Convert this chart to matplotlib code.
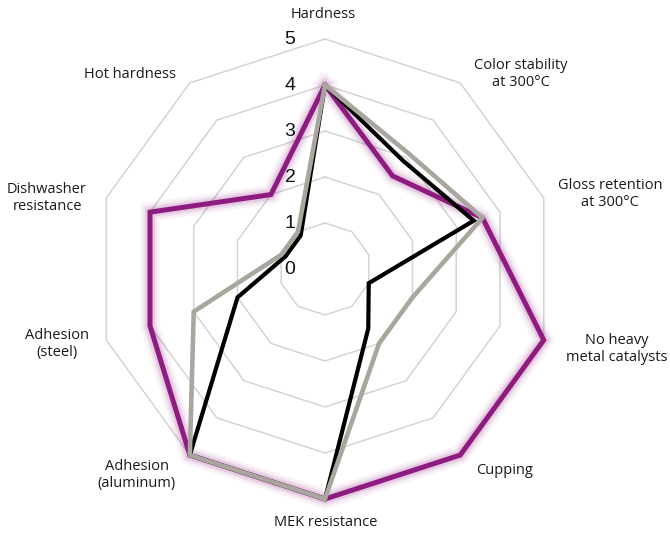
import numpy as np
import matplotlib
matplotlib.use("Agg")
import matplotlib.pyplot as plt
import matplotlib.patheffects as pe

categories = ["Hardness", "Color stability\nat 300°C", "Gloss retention\nat 300°C",
              "No heavy\nmetal catalysts", "Cupping", "MEK resistance",
              "Adhesion\n(aluminum)", "Adhesion\n(steel)", "Dishwasher\nresistance",
              "Hot hardness"]
purple_vals = [4, 2.5, 3.6, 5, 5, 5, 5, 4, 4, 2]
black_vals = [4, 2.9, 3.4, 1, 1.6, 5, 5, 2, 0.9, 0.9]
gray_vals = [4, 3.1, 3.6, 2, 2, 5, 5, 3, 1, 1]
ring_labels = [0, 1, 2, 3, 4, 5]

PURPLE = "#8e1b80"
GRAY = "#a9a69e"

n = len(categories)
theta = np.arange(n) * 2 * np.pi / n


def xy(vals):
    v = np.array(list(vals) + [vals[0]], dtype=float)
    t = np.append(theta, theta[0])
    return v * np.sin(t), v * np.cos(t)


fig = plt.figure(figsize=(6.7, 5.36), dpi=100)
ax = fig.add_axes([0, 0, 1, 1])
unit = 46.0
ax.set_xlim(-325 / unit, 345 / unit)
ax.set_ylim(-(536 - 269) / unit, 269 / unit)
ax.axis("off")

# decagon grid
for r in ring_labels[1:]:
    gx, gy = xy([r] * n)
    ax.plot(gx, gy, color="#d4d4d4", lw=1.1, zorder=1)

# purple series with soft glow
px, py = xy(purple_vals)
glow = [pe.Stroke(linewidth=14, foreground=PURPLE, alpha=0.05),
        pe.Stroke(linewidth=10, foreground=PURPLE, alpha=0.08),
        pe.Stroke(linewidth=7, foreground=PURPLE, alpha=0.12),
        pe.Normal()]
ax.plot(px, py, color=PURPLE, lw=3.6, solid_joinstyle="miter", zorder=3,
        path_effects=glow)

bx, by = xy(black_vals)
ax.plot(bx, by, color="black", lw=3.0, solid_joinstyle="miter", zorder=4)

gx, gy = xy(gray_vals)
ax.plot(gx, gy, color=GRAY, lw=3.3, solid_joinstyle="miter", zorder=5)

# ring value labels
for r in ring_labels:
    ax.text(-0.76, r, str(r), ha="center", va="center", fontsize=14,
            family="Liberation Sans", color="#111111", zorder=6)

# category labels (pixel positions of label centres)
label_pos = [(323, 14), (521, 74), (610, 194), (617, 349), (505, 471),
             (326, 522), (137, 475), (57, 344), (47, 198), (130, 75)]
for lab, (lx, ly) in zip(categories, label_pos):
    ax.text((lx - 325) / unit, (269 - ly) / unit, lab, ha="center", va="center",
            fontsize=10.5, family="Open Sans", color="#1a1a1a",
            linespacing=1.15, zorder=6)

fig.savefig("out.png", dpi=100)
